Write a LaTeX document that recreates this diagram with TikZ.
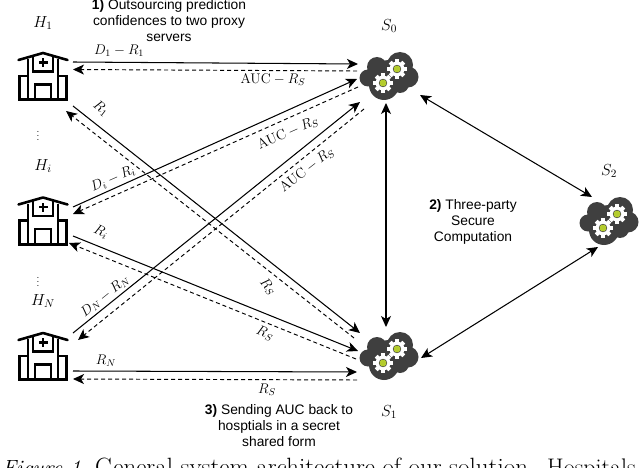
\documentclass[tikz,border=0pt]{standalone}
\usepackage{fix-cm}
\usepackage[no-math]{fontspec}
\newfontfamily\lsans{Liberation Sans}
\usetikzlibrary{arrows.meta}
\definecolor{clouddark}{HTML}{3F3F3F}
\definecolor{gearlime}{HTML}{B4CC2E}
\tikzset{
  anchorbox/.style={inner sep=0pt,minimum width=50pt,minimum height=50pt},
  solidarrow/.style={line width=1.05pt,-{Stealth[length=11pt,width=10pt,inset=3pt]}},
  dasharrow/.style={line width=0.95pt,dash pattern=on 4pt off 3pt,-{Stealth[length=11pt,width=10pt,inset=3pt]}},
  bothways/.style={line width=1.05pt,{Stealth[length=11pt,width=10pt,inset=3pt]}-{Stealth[length=11pt,width=10pt,inset=3pt]}},
  mlabel/.style={inner sep=0pt,font=\fontsize{14}{16}\selectfont},
  entity/.style={inner sep=0pt,font=\fontsize{16}{18}\selectfont},
  steptext/.style={inner sep=0pt,align=center,font=\lsans\fontsize{13.8}{16}\selectfont},
  captext/.style={anchor=base west,inner sep=0pt,font=\fontsize{25}{30}\selectfont},
  hospital/.pic={
    \draw[line width=2.6pt,line cap=round,line join=round] (-24.5,-16) -- (0,-23) -- (24.5,-16);
    \draw[line width=2.6pt] (-10,-20) -- (-10,-4.5) -- (10,-4.5) -- (10,-20);
    \draw[line width=2.6pt] (-15,-17) -- (-15,23) (15,-17) -- (15,23);
    \draw[line width=2.6pt,line join=miter] (-23.5,23.5) -- (-23.5,0) -- (-15,0) (23.5,23.5) -- (23.5,0) -- (15,0);
    \draw[line width=3pt] (-25,23.5) -- (25,23.5);
    \draw[line width=2.6pt] (-8,23) -- (-8,8.5) -- (8,8.5) -- (8,23);
    \fill (-1.3,-18) rectangle (1.3,-9);
    \fill (-4.5,-14.8) rectangle (4.5,-12.2);
  },
  gear/.pic={
    \foreach \a in {0,45,...,315}{
      \fill[white,rotate=\a] (-2,-9.6) rectangle (2,0);
    }
    \fill[white] (0,0) circle (7.4);
    \fill[clouddark] (0,0) circle (4.2);
    \fill[gearlime] (0,0) circle (3.5);
  },
  cloud/.pic={
    \fill[clouddark] (0,0) circle (16) (11,-11) circle (13) (-12,-9) circle (10)
      (-21,2) circle (8.5) (-5,9) circle (15) (19,1) circle (10.5) (11,8) circle (9);
    \pic at (8,-7) {gear};
    \pic at (-6,7) {gear};
  },
}
\begin{document}
\begin{tikzpicture}[x=1pt,y=-1pt]
\useasboundingbox (0,0) rectangle (640,468);
\begin{scope}
\clip (0,0) rectangle (640,468);

% hospitals and clouds
\node[anchorbox] (h1) at (43,76) {};
\node[anchorbox] (hi) at (43,220.5) {};
\node[anchorbox] (hn) at (43,356) {};
\node[anchorbox] (s0) at (389,76) {};
\node[anchorbox] (s1) at (389,356) {};
\node[anchorbox] (s2) at (609,221) {};
\pic at (h1.center) {hospital};
\pic at (hi.center) {hospital};
\pic at (hn.center) {hospital};
\pic at (s0.center) {cloud};
\pic at (s1.center) {cloud};
\pic at (s2.center) {cloud};

% H1 <-> S0
\draw[solidarrow] ([shift={(30,-14)}]h1.center) -- ([shift={(-31,-12)}]s0.center);
\draw[dasharrow] ([shift={(-32,-5)}]s0.center) -- ([shift={(30,-6.5)}]h1.center);
% Hi <-> S0
\draw[solidarrow] ([shift={(30,-13.5)}]hi.center) -- ([shift={(-32,3)}]s0.center);
\draw[dasharrow] ([shift={(-31,11)}]s0.center) -- ([shift={(30,-6.5)}]hi.center);
% HN <-> S0
\draw[solidarrow] ([shift={(30,-23)}]hn.center) -- ([shift={(-29,26)}]s0.center);
\draw[dasharrow] ([shift={(-25,33)}]s0.center) -- ([shift={(35,-16)}]hn.center);
% H1 <-> S1
\draw[solidarrow] ([shift={(30,30)}]h1.center) -- ([shift={(-29,-23)}]s1.center);
\draw[dasharrow] ([shift={(-35,-18)}]s1.center) -- ([shift={(23,35)}]h1.center);
% Hi <-> S1
\draw[solidarrow] ([shift={(30,15.5)}]hi.center) -- ([shift={(-31,-5)}]s1.center);
\draw[dasharrow] ([shift={(-33,3)}]s1.center) -- ([shift={(26,22.5)}]hi.center);
% HN <-> S1
\draw[solidarrow] ([shift={(30,15)}]hn.center) -- ([shift={(-32,16)}]s1.center);
\draw[dasharrow] ([shift={(-32,24)}]s1.center) -- ([shift={(30,23)}]hn.center);
% Servers
\draw[bothways] ([shift={(-3,27)}]s0.center) -- ([shift={(-3,-29)}]s1.center);
\draw[bothways] ([shift={(31,19)}]s0.center) -- ([shift={(-17,-24)}]s2.center);
\draw[bothways] ([shift={(32,2)}]s1.center) -- ([shift={(-11,26)}]s2.center);

% entity labels
\node[entity] (lh1) at (43,23) {$H_1$};
\node[entity] (lhi) at (43,166) {$H_i$};
\node[entity] (lhn) at (43,301) {$H_N$};
\node[entity] (ls0) at (389,26) {$S_0$};
\node[entity] (ls1) at (389,412) {$S_1$};
\node[entity] (ls2) at (609,171) {$S_2$};
\node[inner sep=0pt] (dots1) at (38,133) {$\vdots$};
\node[inner sep=0pt] (dots2) at (38,279) {$\vdots$};

% connector labels
\node[mlabel] (a1) at (119,51) {$D_1-R_1$};
\node[mlabel] (a2) at (273,80) {$\mathrm{AUC}-R_S$};
\node[mlabel,rotate=-38] (a3) at (101,108) {$R_1$};
\node[mlabel,rotate=24] (a4) at (113,179) {$D_i-R_i$};
\node[mlabel,rotate=24] (a5) at (288,133) {$\mathrm{AUC}-R_S$};
\node[mlabel,rotate=38] (a6) at (307,170) {$\mathrm{AUC}-R_S$};
\node[mlabel,rotate=-24] (a7) at (101,232) {$R_i$};
\node[mlabel,rotate=39] (a8) at (105,296) {$D_N-R_N$};
\node[mlabel,rotate=-50] (a9) at (268,287) {$R_S$};
\node[mlabel,rotate=-22] (a10) at (265,333) {$R_S$};
\node[mlabel] (a11) at (106,361) {$R_N$};
\node[mlabel] (a12) at (267,390) {$R_S$};

% step captions
\node[steptext] (t1) at (169,21) {{\bfseries 1)} Outsourcing prediction\\confidences to two proxy\\servers};
\node[steptext] (t2) at (473,222) {{\bfseries 2)} Three-party\\Secure\\Computation};
\node[steptext] (t3) at (279,426) {{\bfseries 3)} Sending AUC back to\\hosptials in a secret\\shared form};

% figure caption cut off by the image edge
\node[captext,font=\fontsize{22}{26}\selectfont] (c1) at (2,475.5) {\itshape Figure 1.};
\node[captext] (c2) at (95,475.5) {General system architecture of our solution.};
\node[captext,font=\fontsize{24}{28}\selectfont] (c3) at (547,475.5) {Hospitals};
\end{scope}
\end{tikzpicture}
\end{document}
